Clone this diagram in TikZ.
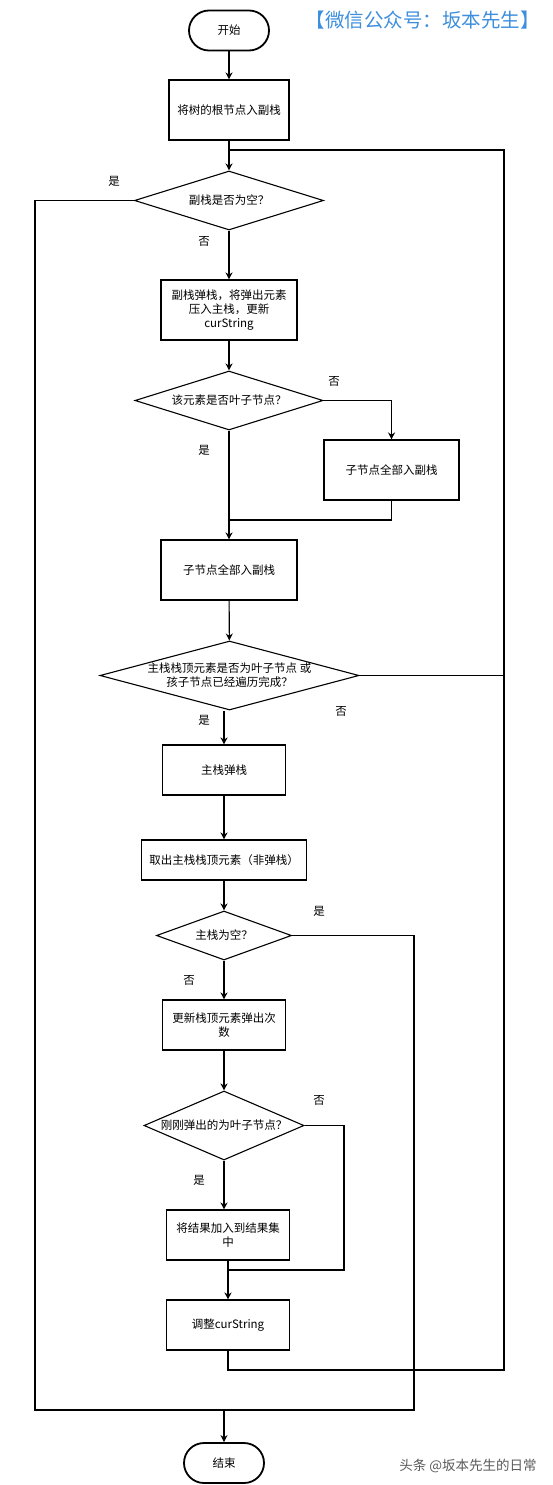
\documentclass[tikz,border=0pt]{standalone}
\usepackage{fontspec}
\setmainfont{Noto Sans CJK SC}
\usetikzlibrary{shapes.geometric,arrows.meta}
\definecolor{wmblue}{RGB}{61,142,221}
\definecolor{wmgray}{RGB}{90,90,90}
\begin{document}
\begin{tikzpicture}[x=1pt,y=-1pt,>={Stealth[length=7pt,width=7pt]},line width=1.1pt,
  font=\fontsize{11.5}{14}\selectfont,
  term/.style={draw,line width=1.8pt,rounded corners=20pt,minimum width=80pt,minimum height=40pt},
  box/.style 2 args={draw,align=center,inner sep=2pt,minimum width=#1,minimum height=#2},
  decide/.style={diamond,draw,aspect=3.5,inner sep=-6pt,align=center},
  lbl/.style={inner sep=0pt}]
\useasboundingbox (0,0) rectangle (553,1485);
\node[term] (start) at (229,30.5) {开始};
\node[box={120pt}{60pt}] (b1) at (229,110) {将树的根节点入副栈};
\node[decide,minimum width=189pt,minimum height=59pt] (d1) at (229,200.5) {副栈是否为空？};
\node[box={136pt}{60pt}] (b2) at (229,310) {副栈弹栈，将弹出元素\\压入主栈，更新\\curString};
\node[decide,minimum width=188pt,minimum height=59pt] (d2) at (229,400.5) {该元素是否叶子节点？};
\node[box={135pt}{60pt}] (b3) at (391.5,470) {子节点全部入副栈};
\node[box={136pt}{60pt}] (b4) at (229,570) {子节点全部入副栈};
\node[decide,minimum width=259pt,minimum height=69pt] (d3) at (229.5,675.5) {主栈栈顶元素是否为叶子节点 或\\孩子节点已经遍历完成？};
\node[box={123pt}{50pt}] (b5) at (224,770) {主栈弹栈};
\node[box={165pt}{40pt}] (b6) at (224,860) {取出主栈栈顶元素（非弹栈）};
\node[decide,minimum width=135pt,minimum height=49pt] (d4) at (224,935.5) {主栈为空？};
\node[box={123pt}{50pt}] (b7) at (224,1025) {更新栈顶元素弹出次\\数};
\node[decide,minimum width=160pt,minimum height=69pt] (d5) at (224,1125.5) {刚刚弹出的为叶子节点？};
\node[box={123pt}{50pt}] (b8) at (228,1235) {将结果加入到结果集\\中};
\node[box={123pt}{50pt}] (b9) at (228,1325) {调整curString};
\node[term] (end) at (224,1463) {结束};
\coordinate (jn1) at (229,150);
\coordinate (jn2) at (229,520);
\coordinate (jn3) at (224,1410);
\coordinate (jn4) at (228,1270);
\coordinate (r5) at (344,1270);
\coordinate (loopR) at (504,1370);
\coordinate (botL) at (35,1410);
\coordinate (botR) at (414,1410);
\draw[->] (start) -- (b1);
\draw[->] (b1) -- (d1);
\draw (b9.south) |- (loopR) |- (jn1);
\draw (d1.west) -| (botL) -- (botR) |- (d4.east);
\draw[->] (jn3) -- (end);
\draw[->] (d1) -- (b2);
\draw[->] (b2) -- (d2);
\draw[->] (d2.east) -| (b3.north);
\draw[->] (d2) -- (b4);
\draw (b3.south) |- (jn2);
\draw[->] (b4) -- (d3);
\draw (d3.east) -- (d3.east -| loopR);
\draw[->] (d3.south -| b5.north) -- (b5.north);
\draw[->] (b5) -- (b6);
\draw[->] (b6) -- (d4);
\draw[->] (d4) -- (b7);
\draw[->] (b7) -- (d5);
\draw (d5.east) -| (r5) -- (jn4);
\draw[->] (d5.south) -- (d5.south |- b8.north);
\draw[->] (b8) -- (b9);
\node[lbl] (y1) at (114,181) {是};
\node[lbl] (n1) at (204,241) {否};
\node[lbl] (n2) at (334,381) {否};
\node[lbl] (y2) at (204,450) {是};
\node[lbl] (n3) at (341,711) {否};
\node[lbl] (y3) at (204,720) {是};
\node[lbl] (y4) at (319,911) {是};
\node[lbl] (n4) at (189,980) {否};
\node[lbl] (n5) at (319,1100) {否};
\node[lbl] (y5) at (199,1180) {是};
\node[text=wmblue,font=\fontsize{19.5}{21}\selectfont] (wm) at (422.5,20) {【微信公众号：坂本先生】};
\node[text=wmgray,font=\fontsize{13.5}{15}\selectfont] (tt) at (468,1466) {头条 @坂本先生的日常};
\end{tikzpicture}
\end{document}
